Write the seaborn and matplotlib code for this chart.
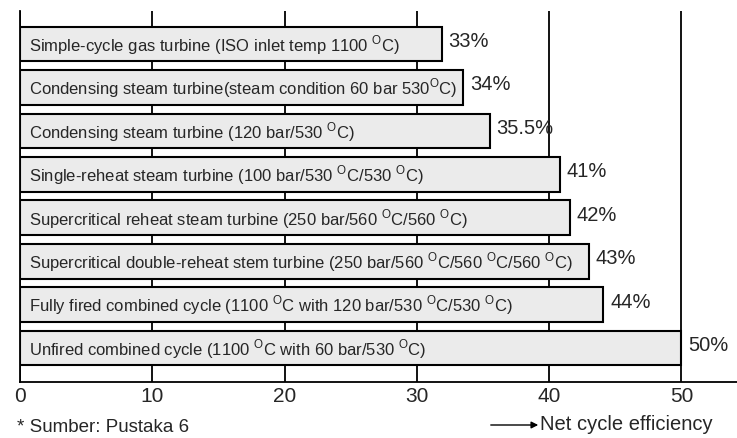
import matplotlib
matplotlib.use("Agg")
import matplotlib.pyplot as plt
import seaborn as sns
import pandas as pd

# --- data ---
names = [
    "Simple-cycle gas turbine (ISO inlet temp 1100 $^{\\mathrm{O}}$C)",
    "Condensing steam turbine(steam condition 60 bar 530$^{\\mathrm{O}}$C)",
    "Condensing steam turbine (120 bar/530 $^{\\mathrm{O}}$C)",
    "Single-reheat steam turbine (100 bar/530 $^{\\mathrm{O}}$C/530 $^{\\mathrm{O}}$C)",
    "Supercritical reheat steam turbine (250 bar/560 $^{\\mathrm{O}}$C/560 $^{\\mathrm{O}}$C)",
    "Supercritical double-reheat stem turbine (250 bar/560 $^{\\mathrm{O}}$C/560 $^{\\mathrm{O}}$C/560 $^{\\mathrm{O}}$C)",
    "Fully fired combined cycle (1100 $^{\\mathrm{O}}$C with 120 bar/530 $^{\\mathrm{O}}$C/530 $^{\\mathrm{O}}$C)",
    "Unfired combined cycle (1100 $^{\\mathrm{O}}$C with 60 bar/530 $^{\\mathrm{O}}$C)",
]
bar_len = [31.9, 33.5, 35.5, 40.8, 41.6, 43.0, 44.1, 50.0]
pct_labels = ["33%", "34%", "35.5%", "41%", "42%", "43%", "44%", "50%"]
xticks = [0, 10, 20, 30, 40, 50]

sns.set_style("white")
plt.rcParams["font.family"] = ["Liberation Sans", "DejaVu Sans"]
plt.rcParams["mathtext.fontset"] = "custom"
plt.rcParams["mathtext.rm"] = "Liberation Sans"

df = pd.DataFrame({"name": names, "eff": bar_len})

fig = plt.figure(figsize=(7.37, 4.39), dpi=100)
ax = fig.add_axes([20 / 737, 1 - 383 / 439, 1 - 20 / 737, (383 - 12) / 439])

sns.barplot(data=df, x="eff", y="name", orient="h", color="#ebebeb",
            edgecolor="black", linewidth=1.5, width=0.8, saturation=1, ax=ax)

for i, (nm, v, lab) in enumerate(zip(names, bar_len, pct_labels)):
    ax.text(0.7, i, nm, va="center", ha="left", fontsize=12)
    ax.text(v + 0.5, i - 0.08, lab, va="center", ha="left", fontsize=14.5)

ax.set_xlim(0, 54.2)
ax.set_ylim(7.78, -0.76)
ax.set_xticks(xticks)
ax.set_xticklabels([str(t) for t in xticks], fontsize=15)
ax.set_yticks([])
ax.set_xlabel("")
ax.set_ylabel("")
ax.tick_params(axis="x", length=0, pad=3)
ax.set_axisbelow(True)
ax.xaxis.grid(True, color="black", linewidth=1.3)
for s in ["top", "right"]:
    ax.spines[s].set_visible(False)
for s in ["left", "bottom"]:
    ax.spines[s].set_color("black")
    ax.spines[s].set_linewidth(1.3)

fig.text(17 / 737, 1 - 428 / 439, "* Sumber: Pustaka 6", fontsize=13.5, va="center")
fig.text(540 / 737, 1 - 425 / 439, "Net cycle efficiency", fontsize=14.5, va="center")
fig.add_artist(matplotlib.patches.FancyArrowPatch(
    (488 / 737, 1 - 426 / 439), (541 / 737, 1 - 426 / 439),
    transform=fig.transFigure, arrowstyle="-|>", mutation_scale=10,
    color="black", linewidth=1))

fig.savefig("out.png", dpi=100)
